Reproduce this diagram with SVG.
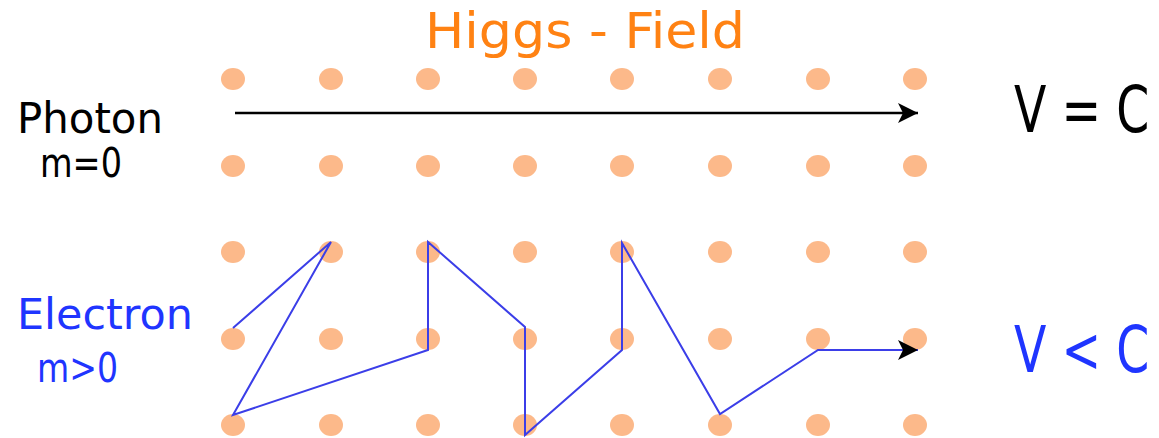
<svg xmlns="http://www.w3.org/2000/svg" width="1159" height="438" viewBox="0 0 1159 438">
<style>
.dot{fill:#fcb98a}
.lbl{font-family:"DejaVu Sans",Verdana,sans-serif}
</style>
<defs>
<marker id="ah" viewBox="0 0 20 20" refX="20" refY="10" markerWidth="20" markerHeight="20" markerUnits="userSpaceOnUse" orient="auto">
<path d="M0,0 L20,10 L0,20 L5,10 Z" fill="#000"/>
</marker>
</defs>
<rect width="1159" height="438" fill="#fff"/>
<g id="field">
<g id="row1">
<ellipse class="dot" cx="233" cy="79" rx="12" ry="11"/><ellipse class="dot" cx="331" cy="79" rx="12" ry="11"/><ellipse class="dot" cx="428" cy="79" rx="12" ry="11"/><ellipse class="dot" cx="525" cy="79" rx="12" ry="11"/><ellipse class="dot" cx="622" cy="79" rx="12" ry="11"/><ellipse class="dot" cx="720" cy="79" rx="12" ry="11"/><ellipse class="dot" cx="818" cy="79" rx="12" ry="11"/><ellipse class="dot" cx="915" cy="79" rx="12" ry="11"/>
</g>
<g id="row2">
<ellipse class="dot" cx="233" cy="166" rx="12" ry="11"/><ellipse class="dot" cx="331" cy="166" rx="12" ry="11"/><ellipse class="dot" cx="428" cy="166" rx="12" ry="11"/><ellipse class="dot" cx="525" cy="166" rx="12" ry="11"/><ellipse class="dot" cx="622" cy="166" rx="12" ry="11"/><ellipse class="dot" cx="720" cy="166" rx="12" ry="11"/><ellipse class="dot" cx="818" cy="166" rx="12" ry="11"/><ellipse class="dot" cx="915" cy="166" rx="12" ry="11"/>
</g>
<g id="row3">
<ellipse class="dot" cx="233" cy="252" rx="12" ry="11"/><ellipse class="dot" cx="331" cy="252" rx="12" ry="11"/><ellipse class="dot" cx="428" cy="252" rx="12" ry="11"/><ellipse class="dot" cx="525" cy="252" rx="12" ry="11"/><ellipse class="dot" cx="622" cy="252" rx="12" ry="11"/><ellipse class="dot" cx="720" cy="252" rx="12" ry="11"/><ellipse class="dot" cx="818" cy="252" rx="12" ry="11"/><ellipse class="dot" cx="915" cy="252" rx="12" ry="11"/>
</g>
<g id="row4">
<ellipse class="dot" cx="233" cy="339" rx="12" ry="11"/><ellipse class="dot" cx="331" cy="339" rx="12" ry="11"/><ellipse class="dot" cx="428" cy="339" rx="12" ry="11"/><ellipse class="dot" cx="525" cy="339" rx="12" ry="11"/><ellipse class="dot" cx="622" cy="339" rx="12" ry="11"/><ellipse class="dot" cx="720" cy="339" rx="12" ry="11"/><ellipse class="dot" cx="818" cy="339" rx="12" ry="11"/><ellipse class="dot" cx="915" cy="339" rx="12" ry="11"/>
</g>
<g id="row5">
<ellipse class="dot" cx="233" cy="425" rx="12" ry="11"/><ellipse class="dot" cx="331" cy="425" rx="12" ry="11"/><ellipse class="dot" cx="428" cy="425" rx="12" ry="11"/><ellipse class="dot" cx="525" cy="425" rx="12" ry="11"/><ellipse class="dot" cx="622" cy="425" rx="12" ry="11"/><ellipse class="dot" cx="720" cy="425" rx="12" ry="11"/><ellipse class="dot" cx="818" cy="425" rx="12" ry="11"/><ellipse class="dot" cx="915" cy="425" rx="12" ry="11"/>
</g>
</g>
<g id="connectors">
<line id="photon-path" x1="235" y1="113" x2="918" y2="113" stroke="#000" stroke-width="2.5" marker-end="url(#ah)"/>
<polyline id="electron-path" points="233,328 331,242 233,415 428,350 428,242 525,327 525,435 622,350 622,243 720,414 818,350 918,350" fill="none" stroke="#3b3ee8" stroke-width="2" stroke-linejoin="miter" marker-end="url(#ah)"/>
</g>
<g id="title">
<text class="lbl" x="425" y="48" font-size="50" fill="#ff8213" textLength="320" lengthAdjust="spacingAndGlyphs">Higgs - Field</text>
</g>
<g id="photon">
<text class="lbl" x="17" y="133" font-size="42" fill="#000" textLength="146" lengthAdjust="spacingAndGlyphs">Photon</text>
<text class="lbl" x="40" y="177" font-size="40" fill="#000" textLength="82" lengthAdjust="spacingAndGlyphs">m=0</text>
</g>
<g id="electron">
<text class="lbl" x="17" y="329" font-size="42" fill="#1f35ff" textLength="176" lengthAdjust="spacingAndGlyphs">Electron</text>
<text class="lbl" x="37" y="382" font-size="40" fill="#1f35ff" textLength="81" lengthAdjust="spacingAndGlyphs">m&gt;0</text>
</g>
<g id="v-eq-c">
<text class="lbl" transform="translate(1014,132) scale(0.74,1)" x="0" y="0" font-size="64" fill="#000">V = C</text>
</g>
<g id="v-lt-c">
<text class="lbl" transform="translate(1014,372) scale(0.74,1)" x="0" y="0" font-size="64" fill="#1f35ff">V &lt; C</text>
</g>
</svg>
